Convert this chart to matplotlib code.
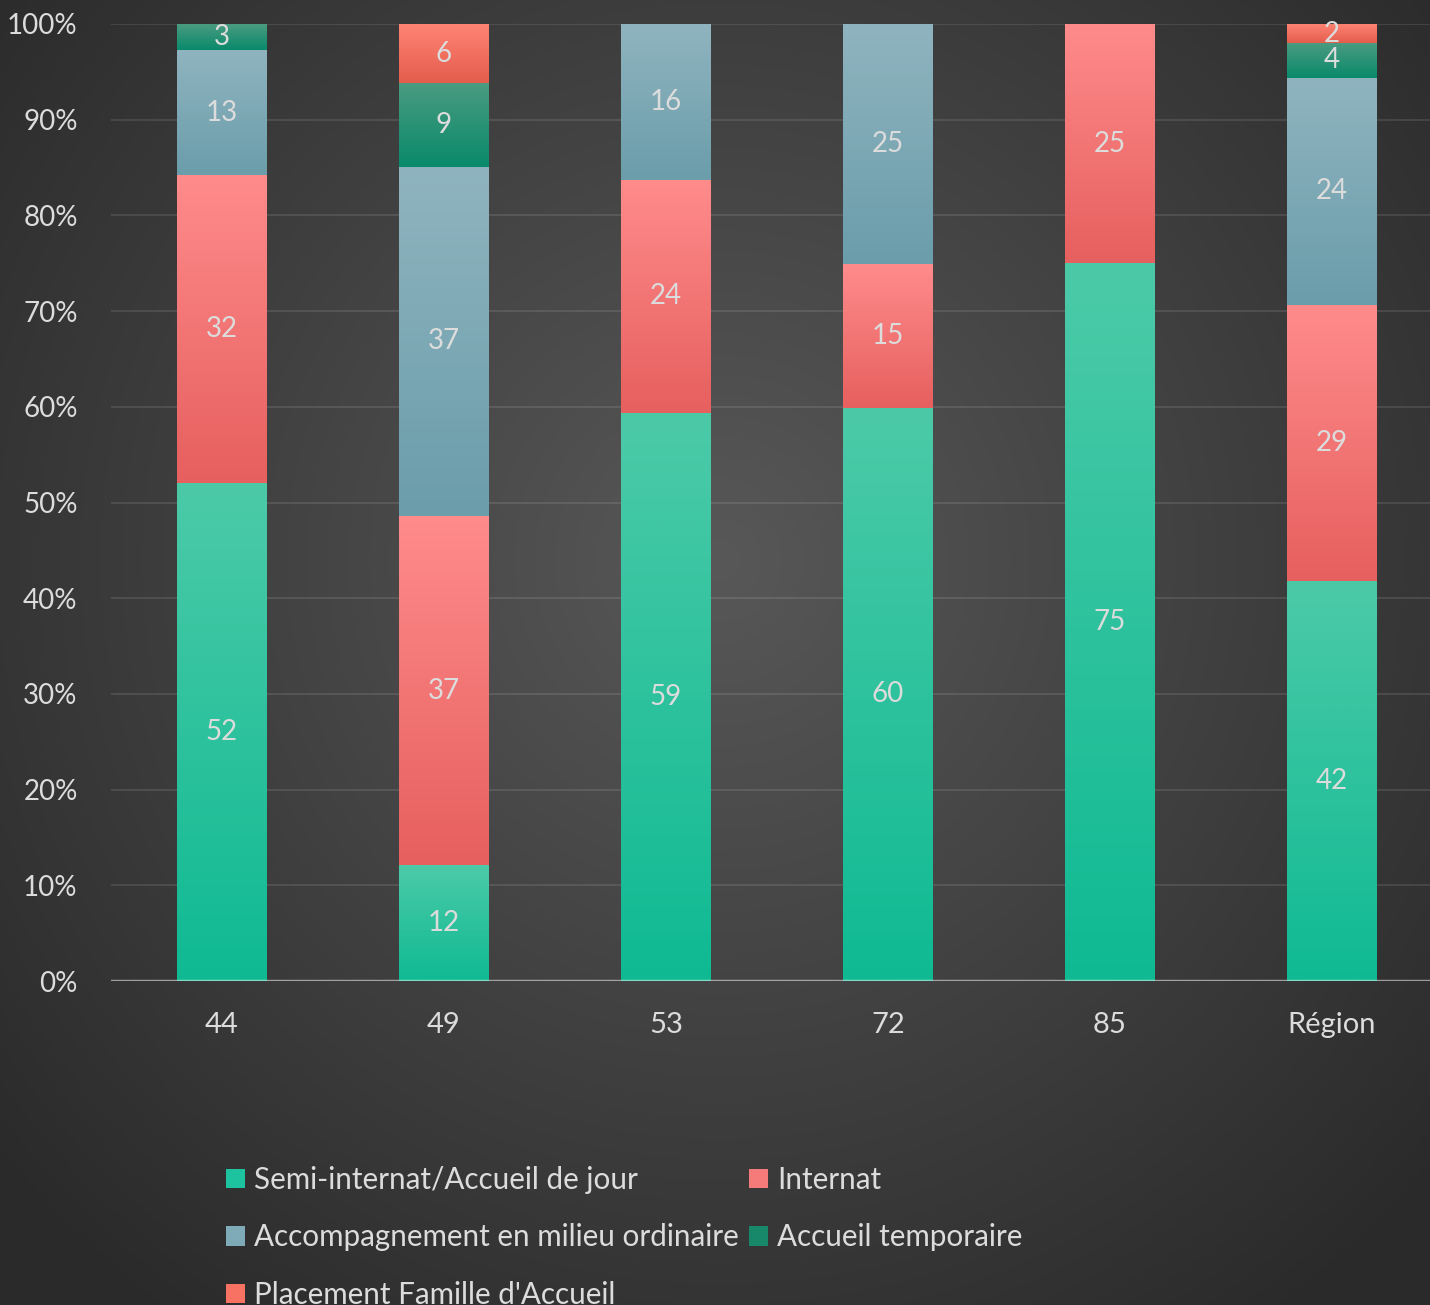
import numpy as np
import matplotlib.pyplot as plt
from matplotlib.colors import to_rgb
from matplotlib.patches import Patch

plt.rcParams['font.family'] = ['Lato', 'DejaVu Sans']

# ----------------------------
# Data (% of places per department)
# ----------------------------

categories = ["44", "49", "53", "72", "85", "Région"]

semi_internat = [52.0, 12.1, 59.4, 59.9, 75.0, 41.8]
internat = [32.2, 36.5, 24.3, 15.0, 25.0, 28.8]
accompagnement = [13.1, 36.5, 16.3, 25.1, 0.0, 23.8]
accueil_temp = [2.7, 8.7, 0.0, 0.0, 0.0, 3.6]
placement = [0.0, 6.2, 0.0, 0.0, 0.0, 2.0]

series_names = [
    "Semi-internat/Accueil de jour",
    "Internat",
    "Accompagnement en milieu ordinaire",
    "Accueil temporaire",
    "Placement Famille d'Accueil",
]
series_values = [semi_internat, internat, accompagnement, accueil_temp, placement]

# (top colour, bottom colour) for each series
grad_colors = [
    ("#4ccaa8", "#0fba93"),
    ("#ff8b8b", "#e6605f"),
    ("#8fb4bf", "#6b9dab"),
    ("#4a9b80", "#098a6b"),
    ("#ff8474", "#e45d4d"),
]
legend_colors = ["#1cc39e", "#f57a7a", "#7faab7", "#17886a", "#f87264"]

text_col = "#dcdcdc"

# ----------------------------
# Figure + background
# ----------------------------

W, H = 1430, 1305
fig = plt.figure(figsize=(W / 100, H / 100), dpi=100)

bg = fig.add_axes([0, 0, 1, 1], zorder=-10)
yy, xx = np.mgrid[0:H, 0:W]
r = np.sqrt((xx - 720) ** 2 + (yy - 560) ** 2) / 950
r = np.clip(r, 0, 1)
inner = np.array(to_rgb("#585858"))
outer = np.array(to_rgb("#2a2a2a"))
img = inner[None, None, :] * (1 - r[..., None]) + outer[None, None, :] * r[..., None]
bg.imshow(img, extent=[0, W, H, 0], aspect="auto")
bg.axis("off")

ax = fig.add_axes([111 / W, 1 - 981 / H, (W - 111) / W, (981 - 24) / H])
ax.set_facecolor("none")

# ----------------------------
# Bars
# ----------------------------

x = np.arange(len(categories))
width = 0.405
bottom = np.zeros(len(categories))

for vals, (top_c, bot_c) in zip(series_values, grad_colors):
    vals = np.array(vals)
    bars = ax.bar(x, vals, width, bottom=bottom, color=bot_c, zorder=2, linewidth=0)
    grad = np.linspace(0, 1, 64)[:, None, None]
    g = np.array(to_rgb(bot_c)) * (1 - grad) + np.array(to_rgb(top_c)) * grad
    for b, v in zip(bars, vals):
        if v <= 0:
            continue
        bx, by, bw, bh = b.get_x(), b.get_y(), b.get_width(), b.get_height()
        ax.imshow(g, extent=[bx, bx + bw, by, by + bh], origin="lower",
                  aspect="auto", zorder=3, interpolation="bicubic")
        ax.text(bx + bw / 2, by + bh / 2, f"{int(v + 0.5)}", ha="center",
                va="center", color=text_col, fontsize=20, zorder=5)
    bottom += vals

# ----------------------------
# Axes styling
# ----------------------------

ax.set_xlim(-0.5, -0.5 + (W - 111) / 222)
ax.set_ylim(0, 100)
ax.set_yticks(np.arange(0, 101, 10))
ax.set_yticklabels([f"{v}%" for v in range(0, 101, 10)])
ax.set_xticks(x)
ax.set_xticklabels(categories)
ax.tick_params(axis="both", length=0, colors=text_col, labelsize=20)
ax.tick_params(axis="x", labelsize=21, pad=22)
ax.tick_params(axis="y", pad=24)

for s in ax.spines.values():
    s.set_visible(False)

ax.yaxis.grid(True, color="white", alpha=0.1, linewidth=1.5, zorder=0)
ax.set_axisbelow(True)
ax.axhline(0, color="white", alpha=0.47, linewidth=2.5, zorder=6)

# ----------------------------
# Legend (row-major order via column-major fill)
# ----------------------------

handles = [Patch(facecolor=c, edgecolor="none") for c in legend_colors]
order = [0, 2, 4, 1, 3]
fig.legend([handles[i] for i in order], [series_names[i] for i in order],
           loc="upper left", bbox_to_anchor=(214 / W, 1 - 1154 / H),
           ncol=2, frameon=False, fontsize=21.3, labelcolor=text_col,
           handlelength=0.65, handleheight=0.65, handletextpad=0.3,
           columnspacing=0.35, labelspacing=1.0, borderaxespad=0)

fig.savefig("out.png", dpi=100)
